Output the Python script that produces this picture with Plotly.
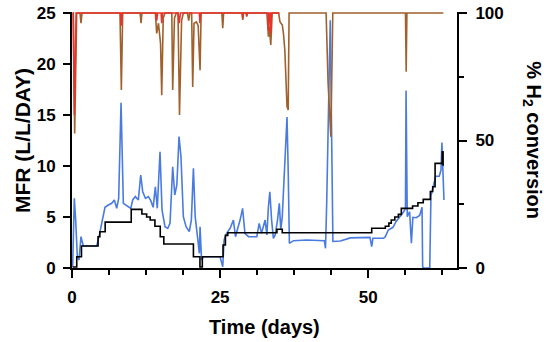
import plotly.graph_objects as go

# ---- data ----
black_day = [0.1, 0.8, 1.6, 4.4, 4.7, 5.6, 10.0, 11.8, 12.6, 13.2, 14.0, 14.9, 15.5, 20.5, 21.6, 22.0,
             25.5, 25.9, 26.3, 34.6, 35.5, 50.6, 52.9, 53.5, 53.9, 54.5, 55.1, 55.6, 57.5, 58.4, 59.3,
             60.5, 60.9, 61.3, 62.5, 62.65, 62.8]
black_mfr = [0.1, 1.1, 2.15, 3.07, 3.56, 4.5, 5.75, 5.3, 5.0, 4.7, 4.1, 3.07, 2.35, 1.1, 0.1, 1.1,
             2.25, 3.2, 3.45, 3.8, 3.45, 3.9, 4.1, 4.4, 4.7, 5.0, 5.26, 5.85, 6.08, 6.4, 6.73,
             7.5, 7.97, 10.26, 11.4, 10.1, 10.1]

blue_day = [0.11, 0.39, 0.62, 0.9, 1.18, 1.52, 1.91, 4.17, 4.62, 5.18, 5.57, 6.14, 6.7, 7.15, 7.55, 7.88,
            8.28, 8.67, 9.24, 9.92, 10.25, 10.7, 11.2, 11.6, 11.94, 12.4, 12.9, 13.3, 13.7, 14.07, 14.4,
            14.86, 15.2, 15.7, 16.16, 16.55, 17.0, 17.35, 17.7, 18.07, 18.4, 18.8, 19.26, 19.8, 20.15,
            20.5, 20.8, 21.1, 21.5, 21.62, 21.87, 22.2, 25.0, 25.45, 25.68, 26.1, 26.7, 27.25, 27.6,
            27.9, 28.38, 28.8, 29.2, 29.8, 31.2, 31.6, 32.0, 32.6, 32.9, 33.16, 33.4, 33.7, 34.0, 34.3,
            34.7, 35.0, 35.25, 35.5, 35.8, 36.0, 36.3, 36.5, 36.7, 37.4, 39.6, 42.6, 42.8, 43.0, 43.6,
            44.05, 45.3, 47.0, 50.3, 50.6, 50.8, 52.6, 52.9, 53.4, 54.2, 54.7, 55.3, 56.0, 56.3, 56.4,
            56.6, 57.0, 57.3, 57.55, 58.1, 58.7, 59.1, 59.2, 59.35, 60.4, 60.6, 61.0, 61.4, 62.0, 62.3,
            62.45, 62.6, 62.8]
blue_mfr = [0.13, 6.83, 4.7, 1.11, 0.78, 3.07, 2.16, 2.16, 3.24, 4.7, 5.95, 6.18, 6.34, 6.67, 5.85, 6.83,
            16.2, 6.34, 6.08, 5.85, 6.67, 7.0, 6.67, 9.12, 7.48, 6.83, 7.0, 6.6, 5.95, 7.97, 5.85,
            11.4, 5.69, 4.05, 3.89, 4.38, 9.93, 7.16, 8.14, 12.88, 10.9, 5.03, 4.05, 3.56, 4.7,
            9.77, 5.03, 3.56, 1.44, 4.05, 0.78, 1.11, 1.11, 0.13, 2.75, 3.4, 3.89, 4.7, 3.07,
            3.73, 4.7, 5.85, 3.4, 3.07, 3.07, 4.38, 3.4, 4.7, 3.24, 6.01, 7.48, 4.7, 2.91, 3.24,
            4.7, 6.34, 3.73, 5.03, 8.63, 11.9, 14.8, 9.6, 2.42, 2.68, 2.75, 2.68, 1.93, 6.34, 24.3,
            2.6, 2.64, 2.95, 3.0, 2.09, 2.91, 2.91, 3.07, 3.73, 3.99, 4.54, 4.97, 5.52, 5.85, 17.4,
            5.03, 5.52, 2.42, 4.97, 4.93, 5.16, 5.95, 0.13, 0.0, 0.0, 7.06, 7.97, 9.0, 9.0, 9.6,
            12.3, 8.8, 6.67]

brown_day = [0.1, 0.22, 0.45, 0.79, 1.35, 1.52, 1.69, 8.1, 8.33, 8.56, 11.5, 11.66, 11.8, 14.07, 14.3,
             14.6, 14.95, 15.15, 15.4, 15.7, 16.85, 17.0, 17.3, 17.6, 17.9, 18.15, 18.5, 18.8, 19.5,
             19.7, 19.9, 20.2, 20.38, 20.6, 21.0, 21.3, 21.62, 21.8, 25.3, 25.45, 25.6, 28.7, 28.83,
             28.95, 29.4, 29.5, 29.6, 32.9, 33.16, 33.3, 33.56, 33.8, 34.9, 35.1, 35.5, 35.7, 35.93,
             36.15, 36.3, 36.5, 36.65, 42.9, 43.24, 43.7, 44.03, 56.3, 56.42, 56.54, 62.7]
brown_conv = [100, 100, 52.8, 100, 100, 96, 100, 100, 69.8, 100, 100, 96, 100, 100, 92,
              96, 88, 67.8, 98, 100, 100, 69.8, 98, 100, 100, 60, 97, 100, 100,
              97, 100, 100, 71, 96, 96.5, 95, 77.6, 100, 100, 94, 100, 100, 97.3,
              100, 100, 98.6, 100, 100, 90.7, 94.6, 87.5, 100, 100, 96.6, 95.3, 92, 85.5,
              75, 63.3, 62, 100, 100, 72.4, 51.5, 100, 100, 77, 100, 100]

red_day = [0.1, 0.2, 0.4, 0.7, 8.2, 8.3, 8.45, 14.2, 14.3, 14.45, 15.05, 15.15, 15.3, 17.9, 18.1, 18.3,
           21.5, 21.6, 21.7, 28.75, 28.83, 28.9, 29.45, 29.5, 29.55, 33.1, 33.2, 33.3, 33.5, 33.56,
           33.65, 35.0]
red_conv = [100, 100, 60, 100, 100, 95, 100, 100, 97, 100, 100, 96, 100, 100, 96, 100,
            100, 96, 100, 100, 98, 100, 100, 99, 100, 100, 93, 100, 100, 92,
            100, 100]

x_ticks = [0, 25, 50]
y_ticks = [0, 5, 10, 15, 20, 25]
y2_ticks = [0, 50, 100]

FONT = "Liberation Sans, Arial, sans-serif"

fig = go.Figure()
fig.add_trace(go.Scatter(x=blue_day, y=blue_mfr, mode="lines",
                         line=dict(color="#4a7be0", width=1.6), yaxis="y"))
fig.add_trace(go.Scatter(x=black_day, y=black_mfr, mode="lines", line_shape="hv",
                         line=dict(color="#000000", width=1.6), yaxis="y"))
fig.add_trace(go.Scatter(x=brown_day, y=brown_conv, mode="lines",
                         line=dict(color="#a0612d", width=1.6), yaxis="y2"))
fig.add_trace(go.Scatter(x=red_day, y=red_conv, mode="lines",
                         line=dict(color="#e8322a", width=1.6), yaxis="y2"))

tickfont = dict(family=FONT, size=17, color="black", weight="bold")
axis_common = dict(showline=True, linecolor="black", linewidth=2, showgrid=False, zeroline=False,
                   ticks="outside", tickwidth=2, tickcolor="black", tickfont=tickfont,
                   automargin=False)

fig.update_layout(
    width=550, height=342,
    margin=dict(l=72, r=93, t=12, b=74, autoexpand=False),
    paper_bgcolor="white", plot_bgcolor="white",
    showlegend=False,
    xaxis=dict(range=[0, 65], tickvals=x_ticks, ticklen=8, ticklabelstandoff=5,
               minor=dict(dtick=6.25, tick0=0, ticklen=5, tickwidth=2, ticks="outside", tickcolor="black"),
               **axis_common),
    yaxis=dict(range=[0, 25.1], tickvals=y_ticks, ticklen=7, ticklabelstandoff=4, **axis_common),
    yaxis2=dict(range=[0, 100.4], tickvals=y2_ticks, ticklen=8, overlaying="y", side="right",
                ticklabelstandoff=5,
                minor=dict(tickvals=[25, 75], ticklen=5, tickwidth=2, ticks="outside", tickcolor="black"),
                **axis_common),
    annotations=[
        dict(text="MFR (L/L/DAY)", xref="paper", yref="paper", x=-0.13, y=0.5, textangle=-90,
             showarrow=False, xanchor="center", yanchor="middle",
             font=dict(family=FONT, size=21, color="black", weight="bold")),
        dict(text="% H<sub>2</sub> conversion", xref="paper", yref="paper", x=1.197, y=0.5,
             textangle=90, showarrow=False, xanchor="center", yanchor="middle",
             font=dict(family=FONT, size=20, color="black", weight="bold")),
        dict(text="Time (days)", xref="paper", yref="paper", x=0.501, y=-0.23,
             showarrow=False, xanchor="center", yanchor="middle",
             font=dict(family=FONT, size=20, color="black", weight="bold")),
    ],
)

fig.write_html("out.html", config={"displayModeBar": False, "staticPlot": True},
               post_script="document.body.style.margin='0';document.body.style.overflow='hidden';")
